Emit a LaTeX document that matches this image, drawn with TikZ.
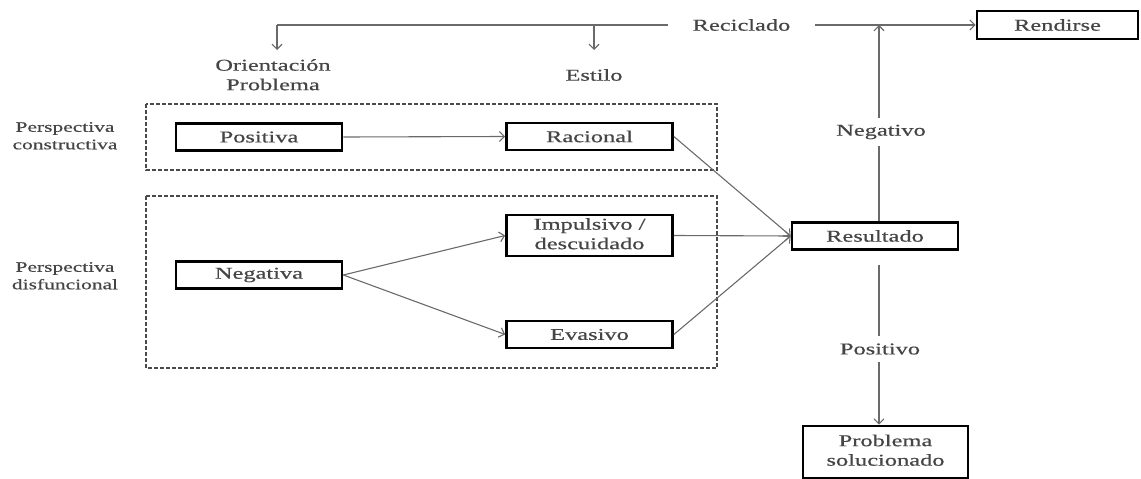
\documentclass[tikz,border=0pt]{standalone}
\usepackage{fontspec}
\setmainfont{Liberation Serif}
\newfontfamily\heavyserif{Liberation Serif}[FakeBold=0.4]
\usepackage{graphicx}
\usetikzlibrary{arrows.meta}

\definecolor{txtgray}{HTML}{454545}
\definecolor{linegray}{HTML}{6A6A6A}
\definecolor{dashgray}{HTML}{4A4A4A}

% wide lettering: text is stretched horizontally
\newcommand\sx[1]{\scalebox{1.48}[1]{#1}}
\newcommand\sxx[2]{\scalebox{1.48}[1]{\begin{tabular}{@{}c@{}}#1\\#2\end{tabular}}}

\tikzset{
  stepbox/.style={draw=black, line width=2.7pt, fill=white, text=txtgray,
    minimum width=166pt, minimum height=27pt, inner sep=0pt,
    font=\heavyserif\fontsize{16.5}{19.5}\selectfont},
  lbl/.style={text=txtgray, inner sep=0pt, font=\heavyserif\fontsize{16.5}{19.5}\selectfont},
  sidelbl/.style={text=txtgray, inner sep=0pt, font=\heavyserif\fontsize{14.5}{17.5}\selectfont},
  gaplbl/.style={lbl, fill=white, inner xsep=6pt, inner ysep=7pt},
  conn/.style={draw=linegray, line width=1.1pt, -{Straight Barb[length=5pt,width=10pt]}},
  group/.style={draw=dashgray, line width=1.4pt, dash pattern=on 4pt off 2pt}
}

\begin{document}
\begin{tikzpicture}[x=1pt, y=-1pt]
\useasboundingbox (0,0) rectangle (1141,479);

% dashed perspective groups
\draw[group] (146,104) rectangle (717,170);
\draw[group] (146,196) rectangle (717,368);

% side labels
\node[sidelbl] (pc) at (65,137) {\sxx{Perspectiva}{constructiva}};
\node[sidelbl] (pd) at (65,277) {\sxx{Perspectiva}{disfuncional}};

% column headers
\node[lbl] (ori) at (273,76.5) {\sxx{Orientación}{Problema}};
\node[lbl] (est) at (594,75) {\sx{Estilo}};

% process boxes
\node[stepbox] (pos) at (259,137) {\sx{Positiva}};
\node[stepbox] (rac) at (589.5,136.5) {\sx{Racional}};
\node[stepbox] (neg) at (259,275) {\sx{Negativa}};
\node[stepbox, minimum height=41pt] (imp) at (589.5,235.5) {\sxx{Impulsivo /}{descuidado}};
\node[stepbox] (eva) at (589.5,334.5) {\sx{Evasivo}};
\node[stepbox] (res) at (875,236) {\sx{Resultado}};
\node[stepbox, minimum width=165pt, minimum height=52pt] (sol) at (885.5,452) {\sxx{Problema}{solucionado}};
\node[stepbox, minimum width=161pt, minimum height=28pt] (ren) at (1057.5,25) {\sx{Rendirse}};

% recycling loop along the top
\coordinate (tl) at (277,25);
\coordinate (ts) at (594,25);
\coordinate (tv) at (879,25);
\coordinate (oa) at (277,50);
\coordinate (ea) at (594,50);
\draw[conn] (tl) -- (ren.west);
\draw[conn] (tl) -- (oa);
\draw[conn] (ts) -- (ea);

% flows between boxes
\draw[conn] (pos.east) -- (rac.west);
\draw[conn] (neg.east) -- (imp.west);
\draw[conn] (neg.east) -- (eva.west);
\draw[conn] (rac.east) -- (res.west);
\draw[conn] (imp.east) -- (res.west);
\draw[conn] (eva.east) -- (res.west);

% outcome branches
\draw[conn] (res.north -| tv) -- (tv);
\draw[conn, shorten <=14pt] (res.south -| tv) -- (sol.north -| tv);

% labels sitting on the lines
\node[gaplbl, inner xsep=25pt] (rec) at (741.5,25) {\sx{Reciclado}};
\node[gaplbl] (nv) at (881,132) {\sx{Negativo}};
\node[gaplbl] (pv) at (880,349) {\sx{Positivo}};
\end{tikzpicture}
\end{document}
